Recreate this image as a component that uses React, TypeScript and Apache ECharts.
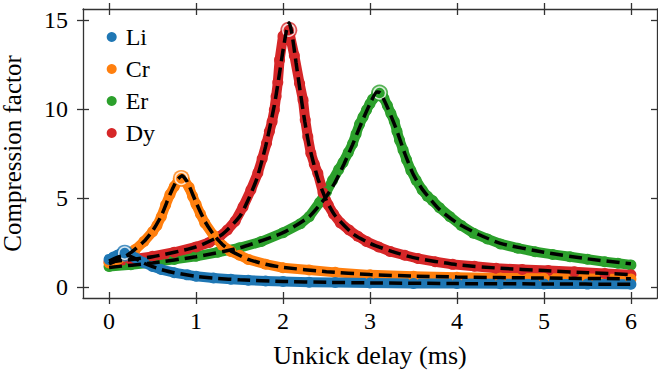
import React, { useEffect, useRef } from "react";
import * as echarts from "echarts";

// ---------- axes ----------
const X_MIN = -0.3;
const X_MAX = 6.3;
const Y_MIN = -0.62;
const Y_MAX = 15.62;
const X_TICKS = [0, 1, 2, 3, 4, 5, 6];
const Y_TICKS = [0, 5, 10, 15];

const liX = [0, 0.05, 0.1, 0.15, 0.2, 0.25, 0.3, 0.4, 0.5, 0.6, 0.75, 0.9, 1.0, 1.2, 1.4, 1.6, 1.8, 2.0, 2.3, 2.6, 3.0, 3.5, 4.0, 4.5, 5.0, 5.5, 6.0];
const liY = [1.55, 1.68, 1.8, 1.9, 1.92, 1.82, 1.64, 1.36, 1.15, 0.98, 0.8, 0.68, 0.6, 0.5, 0.43, 0.38, 0.34, 0.31, 0.27, 0.25, 0.22, 0.2, 0.19, 0.18, 0.17, 0.16, 0.15];

const crX = [0, 0.1, 0.2, 0.3, 0.4, 0.5, 0.55, 0.6, 0.65, 0.7, 0.75, 0.8, 0.83, 0.87, 0.92, 0.96, 1.0, 1.05, 1.1, 1.2, 1.3, 1.4, 1.5, 1.6, 1.8, 2.0, 2.3, 2.6, 3.0, 3.5, 4.0, 4.5, 5.0, 5.5, 6.0];
const crY = [1.35, 1.55, 1.8, 2.1, 2.55, 3.1, 3.45, 3.95, 4.6, 5.2, 5.65, 6.0, 6.1, 5.95, 5.6, 5.1, 4.65, 4.1, 3.6, 2.9, 2.35, 2.0, 1.78, 1.55, 1.28, 1.08, 0.95, 0.82, 0.68, 0.6, 0.55, 0.51, 0.49, 0.47, 0.45];

const erX = [0, 0.25, 0.5, 0.75, 1.0, 1.25, 1.5, 1.75, 2.0, 2.2, 2.3, 2.42, 2.5, 2.57, 2.64, 2.69, 2.75, 2.8, 2.84, 2.88, 2.92, 2.96, 3.0, 3.03, 3.07, 3.11, 3.16, 3.2, 3.24, 3.28, 3.31, 3.34, 3.38, 3.42, 3.47, 3.53, 3.6, 3.66, 3.72, 3.8, 3.92, 4.05, 4.19, 4.35, 4.5, 4.7, 4.9, 5.1, 5.3, 5.5, 5.7, 5.85, 6.0];
const erY = [1.15, 1.25, 1.38, 1.55, 1.72, 1.95, 2.2, 2.55, 3.05, 3.55, 3.95, 4.75, 5.35, 6.0, 6.6, 7.0, 7.55, 8.05, 8.6, 9.15, 9.55, 9.95, 10.3, 10.55, 10.75, 10.9, 10.6, 10.2, 9.75, 9.3, 8.75, 8.25, 7.7, 7.15, 6.55, 6.0, 5.45, 5.1, 4.85, 4.45, 3.95, 3.45, 3.02, 2.7, 2.42, 2.18, 1.98, 1.83, 1.7, 1.56, 1.42, 1.33, 1.24];

const dyX = [0, 0.25, 0.5, 0.75, 1.0, 1.15, 1.27, 1.36, 1.45, 1.54, 1.63, 1.71, 1.76, 1.81, 1.843, 1.874, 1.9, 1.92, 1.94, 1.96, 2.0, 2.066, 2.13, 2.19, 2.23, 2.255, 2.285, 2.32, 2.36, 2.4, 2.46, 2.52, 2.58, 2.66, 2.76, 2.86, 2.96, 3.1, 3.23, 3.4, 3.55, 3.75, 3.95, 4.2, 4.45, 4.75, 5.05, 5.35, 5.7, 6.0];
const dyY = [1.4, 1.55, 1.72, 1.95, 2.25, 2.5, 2.83, 3.2, 3.7, 4.5, 5.45, 6.4, 7.2, 8.07, 8.73, 9.29, 9.94, 10.7, 11.5, 12.75, 14.1, 14.43, 13.0, 11.44, 10.5, 9.4, 8.44, 7.51, 6.9, 6.39, 5.3, 4.6, 4.1, 3.6, 3.2, 2.85, 2.55, 2.25, 2.0, 1.78, 1.6, 1.42, 1.27, 1.16, 1.05, 0.98, 0.92, 0.85, 0.76, 0.68];

// ---------- fitted curves ----------
const liFitX = [0, 0.1, 0.2, 0.3, 0.4, 0.5, 0.6, 0.75, 1.0, 1.25, 1.5, 2.0, 2.5, 3.0, 4.0, 5.0, 6.0];
const liFitY = [1.45, 1.68, 1.78, 1.6, 1.34, 1.14, 0.98, 0.8, 0.6, 0.48, 0.4, 0.31, 0.26, 0.23, 0.19, 0.17, 0.15];

const crFitX = [0, 0.2, 0.4, 0.5, 0.6, 0.7, 0.78, 0.84, 0.9, 1.0, 1.1, 1.2, 1.3, 1.4, 1.6, 1.8, 2.0, 2.5, 3.0, 3.5, 4.0, 5.0, 6.0];
const crFitY = [1.3, 1.75, 2.55, 3.15, 4.0, 5.2, 6.0, 6.25, 5.9, 4.75, 3.7, 2.95, 2.4, 2.02, 1.55, 1.28, 1.1, 0.86, 0.7, 0.61, 0.56, 0.5, 0.46];

const erFitX = [0, 0.5, 1.0, 1.5, 2.0, 2.3, 2.5, 2.6, 2.7, 2.8, 2.9, 3.0, 3.08, 3.12, 3.2, 3.3, 3.4, 3.5, 3.6, 3.8, 4.0, 4.25, 4.5, 5.0, 5.5, 6.0];
const erFitY = [1.1, 1.35, 1.7, 2.2, 3.05, 3.95, 5.1, 5.9, 6.9, 8.0, 9.2, 10.3, 10.95, 10.9, 10.1, 8.9, 7.5, 6.3, 5.5, 4.35, 3.6, 2.95, 2.45, 1.95, 1.58, 1.3];

const dyFitX = [0, 0.5, 1.0, 1.3, 1.5, 1.6, 1.7, 1.8, 1.9, 1.95, 2.0, 2.04, 2.07, 2.1, 2.15, 2.2, 2.25, 2.3, 2.4, 2.5, 2.6, 2.8, 3.0, 3.25, 3.5, 4.0, 4.5, 5.0, 5.5, 6.0];
const dyFitY = [1.4, 1.7, 2.25, 2.95, 3.95, 4.9, 6.1, 7.9, 10.2, 11.7, 13.3, 14.4, 14.85, 14.3, 12.6, 10.9, 9.3, 7.95, 6.1, 4.85, 4.0, 3.0, 2.45, 2.0, 1.65, 1.25, 1.05, 0.92, 0.8, 0.7];

// highlighted peak points
const peakNames = ["Li", "Cr", "Er", "Dy"];
const peakX = [0.18, 0.83, 3.11, 2.066];
const peakY = [1.9, 6.1, 10.9, 14.43];

const NAMES = ["Li", "Cr", "Er", "Dy"];
const COLORS: Record<string, string> = {
  Li: "#1f77b4",
  Cr: "#ff7f0e",
  Er: "#2ca02c",
  Dy: "#d62728",
};

const FONT = "Liberation Serif";
const AXIS_COLOR = "#333";

const zip = (xs: number[], ys: number[]) => xs.map((x, i) => [x, ys[i]]);

function xAxisDef(position: "top" | "bottom", inside: boolean, withLine: boolean, withLabel: boolean) {
  return {
    type: "value",
    position,
    min: X_MIN,
    max: X_MAX,
    splitLine: { show: false },
    axisLine: { show: withLine, onZero: false, lineStyle: { color: AXIS_COLOR, width: 1.3 } },
    axisTick: {
      show: true,
      inside,
      length: 6,
      customValues: X_TICKS,
      lineStyle: { color: AXIS_COLOR, width: 1.3 },
    },
    axisLabel: {
      show: withLabel,
      customValues: X_TICKS,
      margin: 11,
      color: "#000",
      fontFamily: FONT,
      fontSize: 24,
    },
    ...(withLabel
      ? {
          name: "Unkick delay (ms)",
          nameLocation: "middle",
          nameGap: 44,
          nameTextStyle: { color: "#000", fontFamily: FONT, fontSize: 26 },
        }
      : {}),
  };
}

function yAxisDef(position: "left" | "right", inside: boolean, withLine: boolean, withLabel: boolean) {
  return {
    type: "value",
    position,
    min: Y_MIN,
    max: Y_MAX,
    splitLine: { show: false },
    axisLine: { show: withLine, onZero: false, lineStyle: { color: AXIS_COLOR, width: 1.3 } },
    axisTick: {
      show: true,
      inside,
      length: 6,
      customValues: Y_TICKS,
      lineStyle: { color: AXIS_COLOR, width: 1.3 },
    },
    axisLabel: {
      show: withLabel,
      customValues: Y_TICKS,
      margin: 15,
      color: "#000",
      fontFamily: FONT,
      fontSize: 24,
    },
    ...(withLabel
      ? {
          name: "Compression factor",
          nameLocation: "middle",
          nameGap: 58,
          nameTextStyle: { color: "#000", fontFamily: FONT, fontSize: 25 },
        }
      : {}),
  };
}

export default function App() {
  const ref = useRef<HTMLDivElement>(null);

  useEffect(() => {
    if (!ref.current) return;
    const chart = echarts.init(ref.current, null, { renderer: "svg" });

    const dataSets: Record<string, number[][]> = {
      Li: zip(liX, liY),
      Cr: zip(crX, crY),
      Er: zip(erX, erY),
      Dy: zip(dyX, dyY),
    };
    const fitSets: Record<string, number[][]> = {
      Li: zip(liFitX, liFitY),
      Cr: zip(crFitX, crFitY),
      Er: zip(erFitX, erFitY),
      Dy: zip(dyFitX, dyFitY),
    };

    // drawing order: Er at the bottom, then Dy, Cr, Li on top
    const drawOrder = ["Er", "Dy", "Cr", "Li"];

    const dataSeries = drawOrder.map((n) => ({
      name: n,
      type: "line",
      data: dataSets[n],
      symbol: "circle",
      symbolSize: 11,
      showSymbol: true,
      itemStyle: { color: COLORS[n] },
      lineStyle: { color: COLORS[n], width: 10, cap: "round", join: "round" },
      z: 2,
      silent: true,
    }));

    const peakSeriesOuter = peakNames.map((n, i) => ({
      name: n + "-peak-outer",
      type: "scatter",
      data: [[peakX[i], peakY[i]]],
      symbol: "circle",
      symbolSize: 17,
      itemStyle: { color: COLORS[n] },
      z: 3,
      silent: true,
    }));
    const peakSeriesInner = peakNames.map((n, i) => ({
      name: n + "-peak-inner",
      type: "scatter",
      data: [[peakX[i], peakY[i]]],
      symbol: "circle",
      symbolSize: 12,
      itemStyle: { color: COLORS[n], borderColor: "#fff", borderWidth: 1.5 },
      z: 4,
      silent: true,
    }));

    const fitSeries = NAMES.map((n) => ({
      name: n + "-fit",
      type: "line",
      data: fitSets[n],
      symbol: "none",
      smooth: 0.2,
      lineStyle: { color: "#000", width: 3.5, type: [13, 6] },
      z: 5,
      silent: true,
    }));

    chart.setOption({
      animation: false,
      textStyle: { fontFamily: FONT },
      grid: { left: 83, right: 1, top: 9, bottom: 76, containLabel: false, outerBoundsMode: "none" },
      legend: {
        data: NAMES,
        orient: "vertical",
        left: 101.7,
        top: 20,
        icon: "circle",
        itemWidth: 18,
        itemHeight: 10,
        itemGap: 8,
        textStyle: { color: "#000", fontFamily: FONT, fontSize: 24 },
        selectedMode: false,
      },
      xAxis: [
        xAxisDef("bottom", false, true, true),
        xAxisDef("bottom", true, false, false),
        xAxisDef("top", false, true, false),
        xAxisDef("top", true, false, false),
      ],
      yAxis: [
        yAxisDef("left", false, true, true),
        yAxisDef("left", true, false, false),
        yAxisDef("right", false, true, false),
        yAxisDef("right", true, false, false),
      ],
      series: [...dataSeries, ...peakSeriesOuter, ...peakSeriesInner, ...fitSeries],
    });

    return () => chart.dispose();
  }, []);

  return (
    <div
      ref={ref}
      style={{ position: "fixed", left: 0, top: 0, width: 658, height: 374, background: "#fff" }}
    />
  );
}
